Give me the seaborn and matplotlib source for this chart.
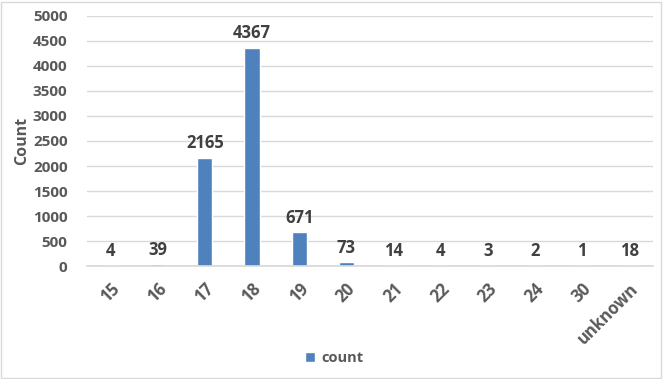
import pandas as pd
import matplotlib.pyplot as plt
import seaborn as sns
from matplotlib.patches import Rectangle

sns.set_theme(style='white')
plt.rcParams['font.family'] = ['Open Sans', 'DejaVu Sans']

# data
ages = ['15', '16', '17', '18', '19', '20', '21', '22', '23', '24', '30', 'unknown']
counts = [4, 39, 2165, 4367, 671, 73, 14, 4, 3, 2, 1, 18]

df = pd.DataFrame({'age': ages, 'count': counts})

text_color = '#595959'
bar_color = '#4F81BD'

fig = plt.figure(figsize=(6.64, 3.79), dpi=100)
ax = fig.add_axes([0.131, 0.298, 0.852, 0.66])

sns.barplot(data=df, x='age', y='count', color=bar_color, width=0.32,
            saturation=1, label='count', ax=ax)

ax.bar_label(ax.containers[0], labels=[str(c) for c in counts], padding=4,
             fontsize=12, fontweight='bold', color='#404040')

ax.set_ylim(0, 5000)
ax.set_yticks(range(0, 5001, 500))
ax.set_xlim(-0.5, len(ages) - 0.5)
ax.yaxis.grid(True, color='#D9D9D9', linewidth=1)
ax.set_axisbelow(True)
for side in ['top', 'right', 'left']:
    ax.spines[side].set_visible(False)
ax.spines['bottom'].set_color('#D9D9D9')

ax.tick_params(axis='y', labelsize=11, labelcolor=text_color, length=0, pad=14)
ax.tick_params(axis='x', labelcolor=text_color, length=0, pad=10)
for lbl in ax.get_yticklabels():
    lbl.set_fontweight('bold')
for lbl in ax.get_xticklabels():
    lbl.set_fontweight('bold')
    lbl.set_fontsize(12)
    lbl.set_rotation(45)
    lbl.set_ha('right')
    lbl.set_rotation_mode('anchor')

ax.set_xlabel('')
ax.set_ylabel('Count', fontsize=11.5, fontweight='bold', color=text_color)
ax.yaxis.set_label_coords(-0.10, 0.5)

leg = ax.legend(loc='center', bbox_to_anchor=(0.503, 0.055), bbox_transform=fig.transFigure,
                frameon=False, fontsize=10.5, handlelength=0.7, handleheight=0.7,
                handletextpad=0.4)
for t in leg.get_texts():
    t.set_fontweight('bold')
    t.set_color(text_color)

fig.patches.append(Rectangle((0.002, 0.003), 0.994, 0.992, transform=fig.transFigure,
                             fill=False, edgecolor='#D9D9D9', linewidth=1))

plt.savefig('out.png', dpi=100)
